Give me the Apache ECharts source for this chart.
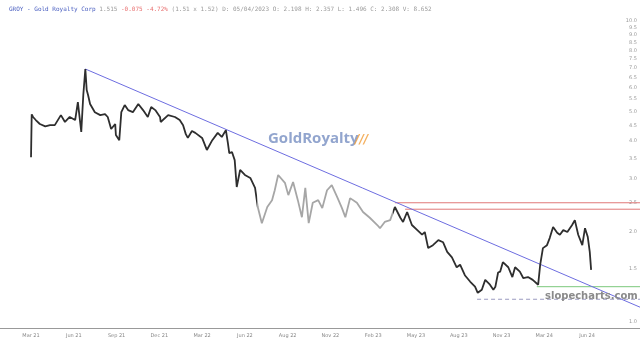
<!DOCTYPE html>
<html><head><meta charset="utf-8">
<script src="https://cdn.jsdelivr.net/npm/echarts@6/dist/echarts.min.js"></script>
<style>html,body{margin:0;padding:0;background:#fff}#c{width:640px;height:342px}</style>
</head><body><div id="c"></div>
<script>
// x = trading-day index since the first "Mar 21" tick (63 days per tick)
const tickLabels = ['Mar 21','Jun 21','Sep 21','Dec 21','Mar 22','Jun 22','Aug 22','Nov 22','Feb 23','May 23','Aug 23','Nov 23','Mar 24','Jun 24'];
const tickDays = [0,63,126,189,252,315,378,441,504,567,630,693,756,819];
const priceTicks = [1.0,1.5,2.0,2.5,3.0,3.5,4.0,4.5,5.0,5.5,6.0,6.5,7.0,7.5,8.0,8.5,9.0,9.5,10.0];
const days = [0,1,3,7,13,21,28,35,44,50,57,65,69,74,77,80,82,84,87,94,102,109,113,118,124,125,130,133,138,143,150,158,165,172,177,183,190,191,202,212,219,224,228,231,237,242,252,259,267,275,281,287,290,292,296,300,303,308,315,323,330,334,340,348,355,359,364,374,379,386,393,399,404,409,415,423,429,436,443,451,458,463,470,480,489,499,510,514,521,529,536,544,548,554,561,569,576,580,585,592,600,607,613,620,627,632,639,647,654,658,664,669,676,681,684,688,691,695,703,709,713,720,725,732,739,747,750,754,760,764,769,775,779,784,790,797,801,806,812,816,820,823,825];
const closes = [3.53,4.90,4.80,4.69,4.55,4.47,4.51,4.51,4.87,4.62,4.80,4.69,5.38,4.28,5.68,6.93,5.90,5.68,5.30,4.98,4.87,4.91,4.80,4.38,4.55,4.18,4.02,4.98,5.26,5.06,4.98,5.30,5.06,4.80,5.18,5.06,4.80,4.62,4.87,4.80,4.69,4.51,4.21,4.09,4.31,4.25,4.09,3.73,4.02,4.25,4.12,4.34,3.93,3.64,3.67,3.45,2.81,3.20,3.08,3.01,2.79,2.41,2.13,2.41,2.54,2.74,3.08,2.90,2.64,2.92,2.54,2.23,2.79,2.13,2.49,2.54,2.39,2.74,2.85,2.60,2.39,2.23,2.58,2.49,2.32,2.22,2.10,2.05,2.15,2.18,2.41,2.22,2.15,2.32,2.10,2.02,1.95,1.99,1.76,1.80,1.87,1.84,1.71,1.64,1.52,1.55,1.43,1.36,1.31,1.25,1.28,1.38,1.33,1.28,1.31,1.46,1.47,1.58,1.52,1.41,1.52,1.47,1.40,1.41,1.38,1.33,1.55,1.76,1.80,1.90,2.07,1.98,1.95,2.02,1.99,2.10,2.18,1.95,1.80,2.05,1.92,1.71,1.49];
const trendDays = [80, 897];
const trendPrices = [6.93, 1.12];
const redLevels = [2.49, 2.37];
const redStartDays = [536, 551];
const greenLevel = 1.31, greenStart = 745;
const lowLevel = 1.19, lowStart = 657;
const greyFrom = 333, greyTo = 533;
const xMin = -45.7, xMax = 897;

const pts = days.map((d,i)=>[d, closes[i]]);
const chart = echarts.init(document.getElementById('c'), null, {renderer:'canvas'});
const hline = (start, lvl, color, type) => ({
  type:'line', data:[[start,lvl],[xMax,lvl]], symbol:'none', silent:true,
  lineStyle:{color, width:1, type}, z:2
});
const mono = {fontFamily:'DejaVu Sans Mono', fontSize:6, fontWeight:'normal'};
chart.setOption({
  animation:false,
  backgroundColor:'#fff',
  title:{
    left:4, top:1,
    text:'{a|GROY - Gold Royalty Corp} {b|1.515} {r|-0.075 -4.72%} {b|(1.51 x 1.52) D: 05/04/2023 O: 2.198 H: 2.357 L: 1.496 C: 2.308 V: 8.652}',
    textStyle:Object.assign({color:'#999', rich:{
      a:Object.assign({color:'#4a5fc0', textDecoration:'underline'}, mono),
      b:Object.assign({color:'#9a9a9a'}, mono),
      r:Object.assign({color:'#e87070'}, mono)
    }}, mono)
  },
  grid:{left:0, right:0, top:0, bottom:14, containLabel:false},
  xAxis:{
    type:'value', min:xMin, max:xMax,
    axisLine:{show:true, lineStyle:{color:'#999', width:1}},
    axisTick:{show:false},
    splitLine:{show:false},
    axisLabel:{
      customValues: tickDays,
      formatter:(v)=>{const i=tickDays.indexOf(Math.round(v)); return i>=0?tickLabels[i]:'';},
      color:'#888', fontSize:5, fontFamily:'DejaVu Sans', margin:5
    }
  },
  yAxis:{
    type:'log', logBase:10, min:0.955, max:11.75, position:'right',
    axisLine:{show:false}, axisTick:{show:false}, splitLine:{show:false},
    axisLabel:{
      inside:true, customValues: priceTicks,
      formatter:(v)=>Number(v).toFixed(1),
      color:'#999', fontSize:5, fontFamily:'DejaVu Sans', margin:3
    }
  },
  visualMap:{
    show:false, type:'piecewise', dimension:0, seriesIndex:0,
    pieces:[
      {lt:greyFrom, color:'#2e2e2e'},
      {gte:greyFrom, lte:greyTo, color:'#a6a6a6'},
      {gt:greyTo, color:'#2e2e2e'}
    ]
  },
  graphic:[
    {type:'text', left:268, top:131, z:10, silent:true,
     style:{text:'GoldRoyalty', fill:'rgba(110,135,190,0.75)', font:'bold 15px "Open Sans", "DejaVu Sans"'}},
    {type:'text', left:355, top:134, z:10, silent:true,
     style:{text:'///', fill:'rgba(240,150,40,0.75)', font:'bold italic 12px "DejaVu Sans"'}},
    {type:'text', left:545, top:291, z:10, silent:true,
     style:{text:'slopecharts.com', fill:'#8a8a8a', font:'bold 10px "DejaVu Sans"'}}
  ],
  series:[
    {type:'line', data:pts, symbol:'none', lineStyle:{width:1.8}, z:5},
    {type:'line', data:trendDays.map((d,i)=>[d,trendPrices[i]]), symbol:'none', silent:true,
     lineStyle:{color:'#6d6de0', width:1}, z:3},
    hline(redStartDays[0], redLevels[0], '#e07878', 'solid'),
    hline(redStartDays[1], redLevels[1], '#e07878', 'solid'),
    hline(greenStart, greenLevel, '#7cc87c', 'solid'),
    hline(lowStart, lowLevel, '#9a9ac0', [4,3])
  ]
});
</script></body></html>
